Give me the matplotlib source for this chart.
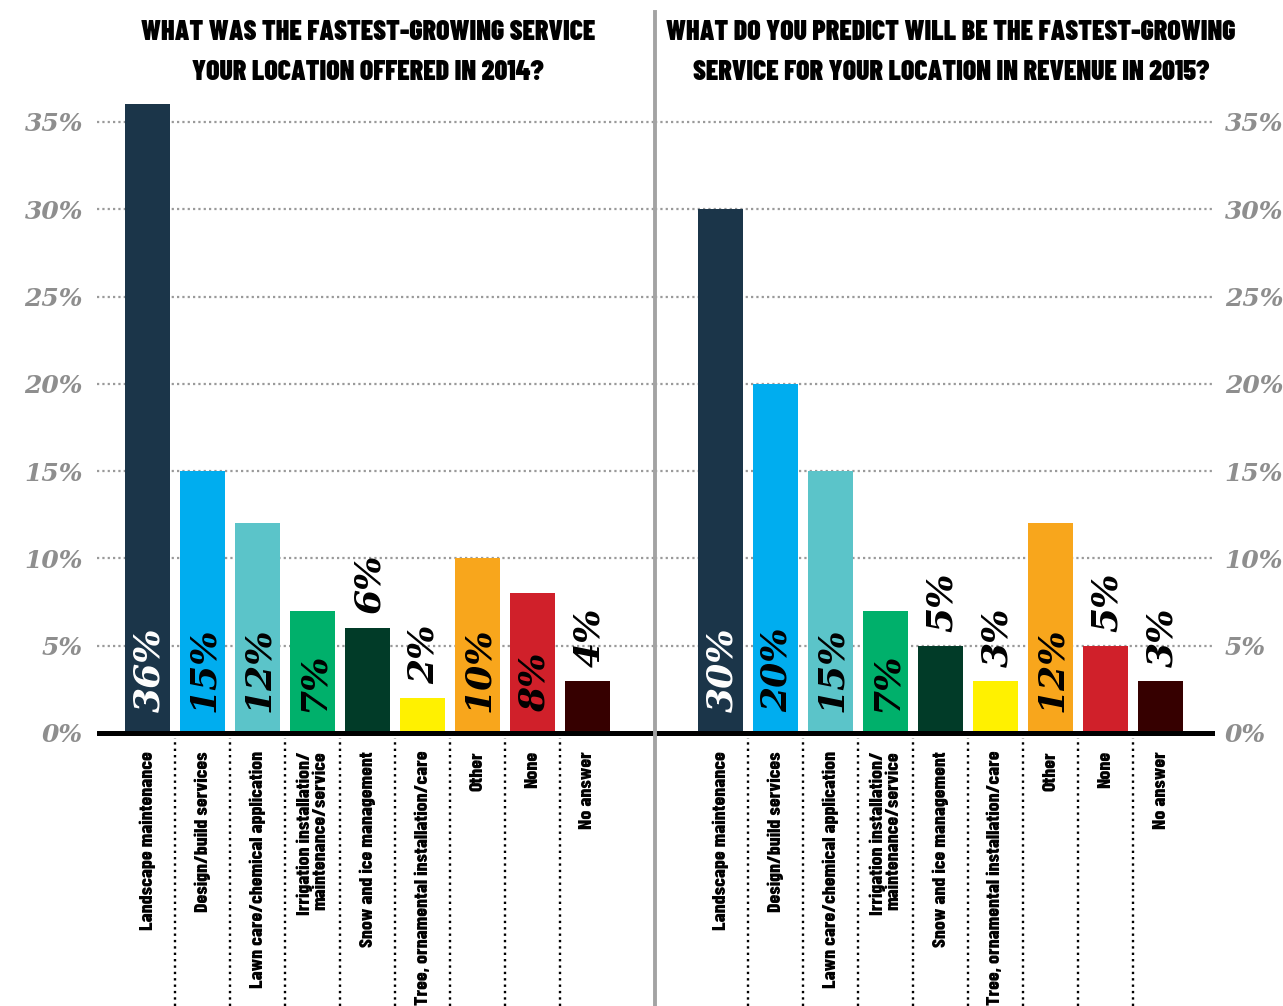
import matplotlib
matplotlib.use("Agg")
import matplotlib.pyplot as plt
from matplotlib.lines import Line2D
import numpy as np

# ---------------- data ----------------
categories = [
    "Landscape maintenance",
    "Design/build services",
    "Lawn care/chemical application",
    "Irrigation installation/\nmaintenance/service",
    "Snow and ice management",
    "Tree, ornamental installation/care",
    "Other",
    "None",
    "No answer",
]
values_2014 = [36, 15, 12, 7, 6, 2, 10, 8, 3]
labels_2014 = ["36%", "15%", "12%", "7%", "6%", "2%", "10%", "8%", "4%"]
values_2015 = [30, 20, 15, 7, 5, 3, 12, 5, 3]
labels_2015 = ["30%", "20%", "15%", "7%", "5%", "3%", "12%", "5%", "3%"]
title_2014 = "WHAT WAS THE FASTEST-GROWING SERVICE\nYOUR LOCATION OFFERED IN 2014?"
title_2015 = "WHAT DO YOU PREDICT WILL BE THE FASTEST-GROWING\nSERVICE FOR YOUR LOCATION IN REVENUE IN 2015?"
yticks = [0, 5, 10, 15, 20, 25, 30, 35]
ytick_labels = ["0%", "5%", "10%", "15%", "20%", "25%", "30%", "35%"]

# ---------------- style ----------------
bar_colors = ["#1b3549", "#00adef", "#5bc4c9", "#00b06b", "#013b28",
              "#fff100", "#f8a61c", "#d0202a", "#360000"]
value_colors = ["white"] + ["black"] * 8
GRAY = "#8e8e8e"
COND = ["Barlow Condensed", "DejaVu Sans"]
SERIF = ["DejaVu Serif"]

W, H = 1283, 1006
fig = plt.figure(figsize=(W / 100, H / 100), dpi=100)

PPU = 17.46       # pixels per percent
Y0 = 733          # pixel row of 0 %
PITCH = 55        # pixels per category
TOP, BOT = 95, 1006
ylim = (-(BOT - Y0) / PPU, (Y0 - TOP) / PPU)


def px_axes(x0, x1):
    return fig.add_axes([x0 / W, 1 - BOT / H, (x1 - x0) / W, (BOT - TOP) / H])


def draw_panel(ax, values, labels, first_center, x0, x1, right_side):
    ax.set_xlim(-(first_center - x0) / PITCH, (x1 - first_center) / PITCH)
    ax.set_ylim(*ylim)
    for s in ax.spines.values():
        s.set_visible(False)
    x = np.arange(len(values))
    for v in yticks[1:]:
        ax.axhline(v, color="#9a9a9a", lw=1.6, linestyle=(0, (1, 1.4)),
                   dash_capstyle="butt", zorder=1)
    ax.bar(x, values, width=45 / PITCH, color=bar_colors, zorder=2)
    ax.axhline(0, color="black", lw=3.6, solid_capstyle="round", zorder=4)
    ax.vlines(x[:-1] + 0.5, ylim[0], -0.3, colors="black", lw=1.7,
              linestyles=(0, (1, 1.7)), zorder=1)
    for xi, v, lab, c in zip(x, values, labels, value_colors):
        if v >= 7:
            y, col = 1.2, c
        else:
            y, col = v + 0.8, "black"
        ax.text(xi + 0.03, y, lab, rotation=90, rotation_mode="anchor",
                ha="left", va="center", fontsize=26, color=col,
                family=SERIF, weight="bold", style="italic", zorder=5)
    for xi, cat in zip(x, categories):
        ax.text(xi, -1.03, cat, rotation=90, ha="center", va="top",
                multialignment="right", fontsize=14.2, weight=800,
                family=COND, color="black", linespacing=0.95)
    ax.set_xticks([])
    if right_side:
        ax.yaxis.tick_right()
    ax.set_yticks(yticks)
    ax.set_yticklabels(ytick_labels)
    ax.tick_params(axis="y", which="both", length=0, labelsize=18,
                   labelcolor=GRAY, pad=7 if right_side else 10)
    for t in ax.get_yticklabels(which="both"):
        t.set_family(SERIF)
        t.set_weight("bold")
        t.set_style("italic")


ax1 = px_axes(97, 655)
draw_panel(ax1, values_2014, labels_2014, 147.5, 97, 655, False)
ax2 = px_axes(655, 1215)
draw_panel(ax2, values_2015, labels_2015, 720.5, 655, 1215, True)

# divider
fig.add_artist(Line2D([655 / W, 655 / W], [1 - 12 / H, 0], color="#a3a3a3",
                      lw=2.8, zorder=3))

# titles (one line per text, baselines at 40 px and 80 px)
for txt, cx in [(title_2014, 368), (title_2015, 951)]:
    for line, base in zip(txt.split("\n"), [40, 80]):
        fig.text(cx / W, 1 - base / H, line, ha="center", va="baseline",
                 fontsize=20, weight=900, family=COND, color="black")

fig.savefig("out.png", dpi=100)
